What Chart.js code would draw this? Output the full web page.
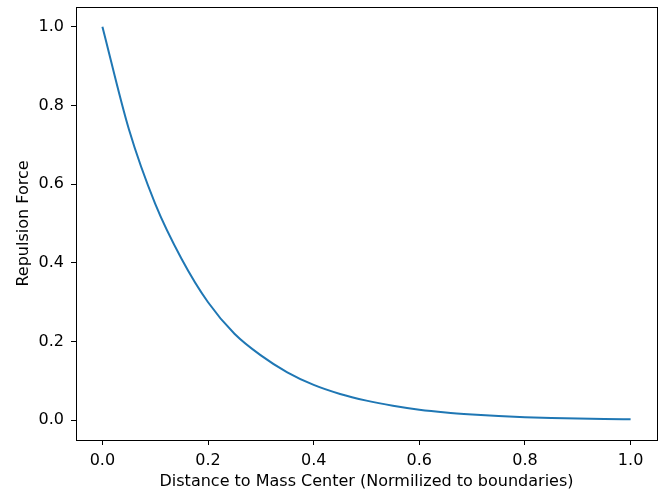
<!DOCTYPE html>
<html lang="en">
<head>
    <meta charset="UTF-8">
    <title>Repulsion Force</title>
    <script src="https://cdn.jsdelivr.net/npm/chart.js"></script>
    <style>
        body { margin: 0; background: #fff; }
    </style>
</head>
<body>
    <canvas id="forceChart" width="661" height="492"></canvas>

    <script>
        // values
        const distance = [0.0, 0.05, 0.1, 0.15, 0.2, 0.25, 0.3, 0.35, 0.4, 0.45, 0.5,
                          0.55, 0.6, 0.65, 0.7, 0.75, 0.8, 0.85, 0.9, 0.95, 1.0];
        const force = [1.0, 0.74, 0.55, 0.41, 0.30, 0.22, 0.165, 0.122, 0.09, 0.067, 0.05,
                       0.037, 0.027, 0.02, 0.015, 0.011, 0.008, 0.006, 0.0045, 0.0033, 0.0025];
        const xTicks = [0.0, 0.2, 0.4, 0.6, 0.8, 1.0];
        const yTicks = [0.0, 0.2, 0.4, 0.6, 0.8, 1.0];

        const font = { family: 'DejaVu Sans', size: 16 };

        const frame = {
            id: 'frame',
            afterDraw(chart) {
                const a = chart.chartArea;
                const ctx = chart.ctx;
                ctx.save();
                ctx.strokeStyle = '#000';
                ctx.lineWidth = 1;
                ctx.strokeRect(Math.round(a.left) + 0.5, Math.round(a.top) + 0.5,
                    Math.round(a.right - a.left), Math.round(a.bottom - a.top));
                ctx.restore();
            }
        };

        new Chart(document.getElementById('forceChart').getContext('2d'), {
            type: 'line',
            data: {
                datasets: [{
                    data: distance.map((d, i) => ({ x: d, y: force[i] })),
                    borderColor: '#1f77b4',
                    borderWidth: 2,
                    pointRadius: 0,
                    cubicInterpolationMode: 'monotone',
                    fill: false
                }]
            },
            options: {
                responsive: false,
                animation: false,
                layout: { padding: { top: 7, right: 4, left: 0, bottom: 0 } },
                plugins: { legend: { display: false }, tooltip: { enabled: false } },
                scales: {
                    x: {
                        type: 'linear',
                        min: -0.05,
                        max: 1.05,
                        afterBuildTicks: s => { s.ticks = xTicks.map(v => ({ value: v })); },
                        afterFit: s => { s.height = 52; s.paddingLeft = 0; s.paddingRight = 0; },
                        grid: { drawOnChartArea: false, drawTicks: true, tickLength: 5, color: '#000' },
                        border: { display: false },
                        ticks: { color: '#000', font: font, padding: 6, maxRotation: 0,
                                 callback: v => v.toFixed(1) },
                        title: { display: true, text: 'Distance to Mass Center (Normilized to boundaries)',
                                 color: '#000', font: font, padding: { top: 0, bottom: 1 } }
                    },
                    y: {
                        min: -0.05,
                        max: 1.05,
                        afterBuildTicks: s => { s.ticks = yTicks.map(v => ({ value: v })); },
                        afterFit: s => { s.width = 76; s.paddingTop = 0; s.paddingBottom = 0; },
                        grid: { drawOnChartArea: false, drawTicks: true, tickLength: 5, color: '#000' },
                        border: { display: false },
                        ticks: { color: '#000', font: font, padding: 7,
                                 callback: v => v.toFixed(1) },
                        title: { display: true, text: 'Repulsion Force', color: '#000', font: font,
                                 padding: { top: 14, bottom: 0 } }
                    }
                }
            },
            plugins: [frame]
        });
    </script>
</body>
</html>
